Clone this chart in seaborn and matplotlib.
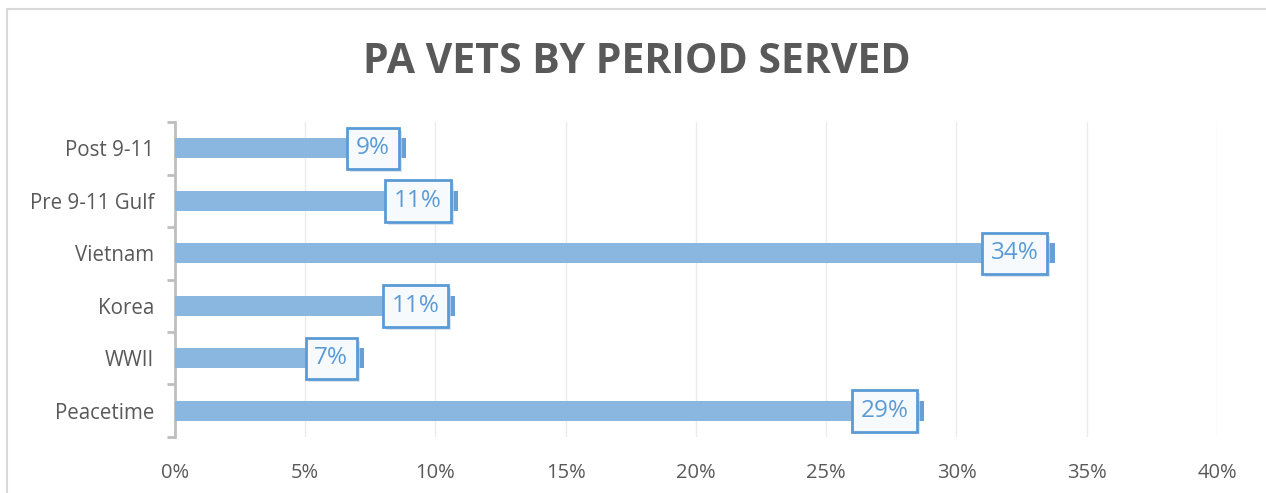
import matplotlib
matplotlib.use("Agg")
import matplotlib.pyplot as plt
import matplotlib.patheffects as pe
import seaborn as sns
import pandas as pd
import numpy as np

categories = ["Post 9-11", "Pre 9-11 Gulf", "Vietnam", "Korea", "WWII", "Peacetime"]
values = [8.6, 10.6, 33.5, 10.5, 7.0, 28.5]
labels = ["9%", "11%", "34%", "11%", "7%", "29%"]
xticks = [0, 5, 10, 15, 20, 25, 30, 35, 40]

df = pd.DataFrame({"period": categories, "pct": values})

sns.set_theme(style="white")
plt.rcParams["font.family"] = ["Open Sans", "DejaVu Sans"]

fig = plt.figure(figsize=(12.66, 4.93), dpi=100)
ax = fig.add_axes([0.1382, 0.1136, 0.9613 - 0.1382, 0.7525 - 0.1136])

sns.barplot(data=df, y="period", x="pct", orient="h", color="#8AB7E0",
            width=0.38, ax=ax, saturation=1)

for p in ax.patches:
    p.set_linewidth(0)
    p.set_path_effects([pe.SimplePatchShadow(offset=(5, 0), shadow_rgbFace="#6A9FD6", alpha=1),
                        pe.Normal()])
    p.set_zorder(3)

for i, (v, lab) in enumerate(zip(values, labels)):
    ax.annotate(lab, xy=(v, i), xytext=(-6.5, 2), textcoords="offset points",
                ha="right", va="center_baseline", fontsize=17.5, color="#5B9BD5", zorder=6,
                bbox=dict(boxstyle="square,pad=0.36", fc="#F7FAFD", ec="#5B9BD5", lw=2,
                          path_effects=[pe.SimplePatchShadow(offset=(2, -2), shadow_rgbFace="#C9D9EA", alpha=0.7), pe.Normal()]))

ax.set_xlim(0, 40)
ax.set_ylim(5.5, -0.5)
ax.set_xticks(xticks)
ax.set_xticklabels([f"{t}%" for t in xticks])
ax.xaxis.grid(True, color="#EBEBEB", lw=1)
ax.set_axisbelow(True)
ax.set_xlabel("")
ax.set_ylabel("")

for s in ["top", "right", "bottom"]:
    ax.spines[s].set_visible(False)
ax.spines["left"].set_color("#BFBFBF")
ax.spines["left"].set_linewidth(2)

ax.tick_params(axis="x", length=0, labelsize=14.5, labelcolor="#595959", pad=19)
ax.tick_params(axis="y", which="major", left=False, length=0, labelsize=14.8, labelcolor="#595959", pad=15)
ax.set_yticks(np.arange(-0.5, 6, 1), minor=True)
ax.tick_params(axis="y", which="minor", left=True, length=6, width=2, color="#BFBFBF", direction="out")

fig.text(0.503, 0.874, "PA VETS BY PERIOD SERVED", ha="center", va="center",
         fontsize=29.5, fontweight="bold", color="#595959")

# chart border
fig.add_artist(plt.Line2D([0.0055, 0.0055], [0, 0.981], transform=fig.transFigure, color="#D9D9D9", lw=1.5))
fig.add_artist(plt.Line2D([0.0055, 1.0], [0.981, 0.981], transform=fig.transFigure, color="#D9D9D9", lw=1.5))

fig.savefig("out.png", dpi=100)
